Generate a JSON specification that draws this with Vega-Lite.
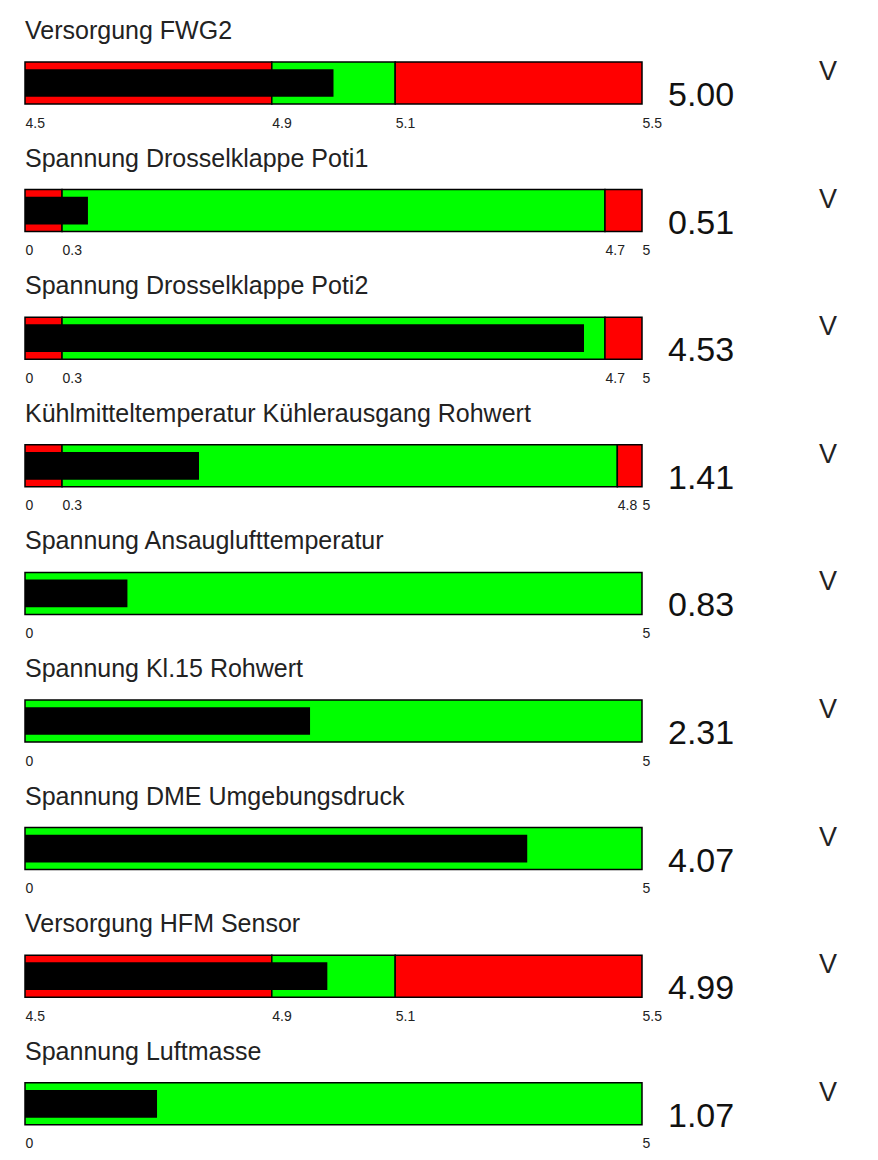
{
  "$schema": "https://vega.github.io/schema/vega-lite/v6.json",
  "padding": {"left": 24, "top": 19, "right": 5, "bottom": 5},
  "background": "#ffffff",
  "spacing": 85.6,
  "bounds": "flush",
  "config": {
    "view": {"stroke": null},
    "font": "Liberation Sans, Arial, sans-serif",
    "title": {"anchor": "start", "font": "Liberation Sans, Arial, sans-serif", "fontSize": 25, "fontWeight": "normal", "color": "#222222", "offset": 14, "frame": "group"},
    "axis": {"domain": false, "ticks": false, "tickSize": 0, "grid": false, "labelAlign": "left", "labelBaseline": "top", "labelPadding": 12, "labelFontSize": 14, "labelFont": "Liberation Sans, Arial, sans-serif", "labelColor": "#222222", "labelFlush": false, "labelOverlap": false, "labelBound": false}
  },
  "datasets": {
    "zones": [
      {"row": 1, "start": 4.5, "end": 4.9, "status": "alarm"},
      {"row": 1, "start": 4.9, "end": 5.1, "status": "ok"},
      {"row": 1, "start": 5.1, "end": 5.5, "status": "alarm"},
      {"row": 2, "start": 0, "end": 0.3, "status": "alarm"},
      {"row": 2, "start": 0.3, "end": 4.7, "status": "ok"},
      {"row": 2, "start": 4.7, "end": 5, "status": "alarm"},
      {"row": 3, "start": 0, "end": 0.3, "status": "alarm"},
      {"row": 3, "start": 0.3, "end": 4.7, "status": "ok"},
      {"row": 3, "start": 4.7, "end": 5, "status": "alarm"},
      {"row": 4, "start": 0, "end": 0.3, "status": "alarm"},
      {"row": 4, "start": 0.3, "end": 4.8, "status": "ok"},
      {"row": 4, "start": 4.8, "end": 5, "status": "alarm"},
      {"row": 5, "start": 0, "end": 5, "status": "ok"},
      {"row": 6, "start": 0, "end": 5, "status": "ok"},
      {"row": 7, "start": 0, "end": 5, "status": "ok"},
      {"row": 8, "start": 4.5, "end": 4.9, "status": "alarm"},
      {"row": 8, "start": 4.9, "end": 5.1, "status": "ok"},
      {"row": 8, "start": 5.1, "end": 5.5, "status": "alarm"},
      {"row": 9, "start": 0, "end": 5, "status": "ok"}
    ],
    "gauges": [
      {"row": 1, "name": "Versorgung FWG2", "min": 4.5, "max": 5.5, "value": 5.00, "unit": "V"},
      {"row": 2, "name": "Spannung Drosselklappe Poti1", "min": 0, "max": 5, "value": 0.51, "unit": "V"},
      {"row": 3, "name": "Spannung Drosselklappe Poti2", "min": 0, "max": 5, "value": 4.53, "unit": "V"},
      {"row": 4, "name": "Kühlmitteltemperatur Kühlerausgang Rohwert", "min": 0, "max": 5, "value": 1.41, "unit": "V"},
      {"row": 5, "name": "Spannung Ansauglufttemperatur", "min": 0, "max": 5, "value": 0.83, "unit": "V"},
      {"row": 6, "name": "Spannung Kl.15 Rohwert", "min": 0, "max": 5, "value": 2.31, "unit": "V"},
      {"row": 7, "name": "Spannung DME Umgebungsdruck", "min": 0, "max": 5, "value": 4.07, "unit": "V"},
      {"row": 8, "name": "Versorgung HFM Sensor", "min": 4.5, "max": 5.5, "value": 4.99, "unit": "V"},
      {"row": 9, "name": "Spannung Luftmasse", "min": 0, "max": 5, "value": 1.07, "unit": "V"}
    ]
  },
  "vconcat": [
    {"title": "Versorgung FWG2", "width": 617, "height": 42, "layer": [
      {"data": {"name": "zones"}, "transform": [{"filter": "datum.row == 1"}], "mark": {"type": "rect", "stroke": "#000000", "strokeWidth": 1.5},
       "encoding": {"x": {"field": "start", "type": "quantitative", "title": null, "scale": {"domain": [4.5, 5.5]}, "axis": {"values": [4.5, 4.9, 5.1, 5.5], "format": "~g"}}, "x2": {"field": "end"},
        "y": {"datum": 0, "type": "quantitative", "scale": {"domain": [0, 1]}, "axis": null}, "y2": {"datum": 1},
        "color": {"field": "status", "type": "nominal", "scale": {"domain": ["alarm", "ok"], "range": ["#ff0000", "#00ff00"]}, "legend": null}}},
      {"data": {"name": "gauges"}, "transform": [{"filter": "datum.row == 1"}], "mark": {"type": "rect", "fill": "#000000"},
       "encoding": {"x": {"field": "min", "type": "quantitative", "title": null}, "x2": {"field": "value"}, "y": {"datum": 0.17, "type": "quantitative"}, "y2": {"datum": 0.83}}},
      {"data": {"name": "gauges"}, "transform": [{"filter": "datum.row == 1"}], "mark": {"type": "text", "align": "left", "baseline": "alphabetic", "dx": 26, "dy": 2, "fontSize": 34, "color": "#111111"},
       "encoding": {"x": {"field": "max", "type": "quantitative", "title": null}, "y": {"datum": 0, "type": "quantitative"}, "text": {"field": "value", "type": "quantitative", "format": ".2f"}}},
      {"data": {"name": "gauges"}, "transform": [{"filter": "datum.row == 1"}], "mark": {"type": "text", "align": "left", "baseline": "alphabetic", "dx": 177, "dy": -3, "fontSize": 27, "color": "#222222"},
       "encoding": {"x": {"field": "max", "type": "quantitative", "title": null}, "y": {"datum": 0.5, "type": "quantitative"}, "text": {"field": "unit"}}}
    ]},
    {"title": "Spannung Drosselklappe Poti1", "width": 617, "height": 42, "layer": [
      {"data": {"name": "zones"}, "transform": [{"filter": "datum.row == 2"}], "mark": {"type": "rect", "stroke": "#000000", "strokeWidth": 1.5},
       "encoding": {"x": {"field": "start", "type": "quantitative", "title": null, "scale": {"domain": [0, 5]}, "axis": {"values": [0, 0.3, 4.7, 5], "format": "~g"}}, "x2": {"field": "end"},
        "y": {"datum": 0, "type": "quantitative", "scale": {"domain": [0, 1]}, "axis": null}, "y2": {"datum": 1},
        "color": {"field": "status", "type": "nominal", "scale": {"domain": ["alarm", "ok"], "range": ["#ff0000", "#00ff00"]}, "legend": null}}},
      {"data": {"name": "gauges"}, "transform": [{"filter": "datum.row == 2"}], "mark": {"type": "rect", "fill": "#000000"},
       "encoding": {"x": {"field": "min", "type": "quantitative", "title": null}, "x2": {"field": "value"}, "y": {"datum": 0.17, "type": "quantitative"}, "y2": {"datum": 0.83}}},
      {"data": {"name": "gauges"}, "transform": [{"filter": "datum.row == 2"}], "mark": {"type": "text", "align": "left", "baseline": "alphabetic", "dx": 26, "dy": 2, "fontSize": 34, "color": "#111111"},
       "encoding": {"x": {"field": "max", "type": "quantitative", "title": null}, "y": {"datum": 0, "type": "quantitative"}, "text": {"field": "value", "type": "quantitative", "format": ".2f"}}},
      {"data": {"name": "gauges"}, "transform": [{"filter": "datum.row == 2"}], "mark": {"type": "text", "align": "left", "baseline": "alphabetic", "dx": 177, "dy": -3, "fontSize": 27, "color": "#222222"},
       "encoding": {"x": {"field": "max", "type": "quantitative", "title": null}, "y": {"datum": 0.5, "type": "quantitative"}, "text": {"field": "unit"}}}
    ]},
    {"title": "Spannung Drosselklappe Poti2", "width": 617, "height": 42, "layer": [
      {"data": {"name": "zones"}, "transform": [{"filter": "datum.row == 3"}], "mark": {"type": "rect", "stroke": "#000000", "strokeWidth": 1.5},
       "encoding": {"x": {"field": "start", "type": "quantitative", "title": null, "scale": {"domain": [0, 5]}, "axis": {"values": [0, 0.3, 4.7, 5], "format": "~g"}}, "x2": {"field": "end"},
        "y": {"datum": 0, "type": "quantitative", "scale": {"domain": [0, 1]}, "axis": null}, "y2": {"datum": 1},
        "color": {"field": "status", "type": "nominal", "scale": {"domain": ["alarm", "ok"], "range": ["#ff0000", "#00ff00"]}, "legend": null}}},
      {"data": {"name": "gauges"}, "transform": [{"filter": "datum.row == 3"}], "mark": {"type": "rect", "fill": "#000000"},
       "encoding": {"x": {"field": "min", "type": "quantitative", "title": null}, "x2": {"field": "value"}, "y": {"datum": 0.17, "type": "quantitative"}, "y2": {"datum": 0.83}}},
      {"data": {"name": "gauges"}, "transform": [{"filter": "datum.row == 3"}], "mark": {"type": "text", "align": "left", "baseline": "alphabetic", "dx": 26, "dy": 2, "fontSize": 34, "color": "#111111"},
       "encoding": {"x": {"field": "max", "type": "quantitative", "title": null}, "y": {"datum": 0, "type": "quantitative"}, "text": {"field": "value", "type": "quantitative", "format": ".2f"}}},
      {"data": {"name": "gauges"}, "transform": [{"filter": "datum.row == 3"}], "mark": {"type": "text", "align": "left", "baseline": "alphabetic", "dx": 177, "dy": -3, "fontSize": 27, "color": "#222222"},
       "encoding": {"x": {"field": "max", "type": "quantitative", "title": null}, "y": {"datum": 0.5, "type": "quantitative"}, "text": {"field": "unit"}}}
    ]},
    {"title": "Kühlmitteltemperatur Kühlerausgang Rohwert", "width": 617, "height": 42, "layer": [
      {"data": {"name": "zones"}, "transform": [{"filter": "datum.row == 4"}], "mark": {"type": "rect", "stroke": "#000000", "strokeWidth": 1.5},
       "encoding": {"x": {"field": "start", "type": "quantitative", "title": null, "scale": {"domain": [0, 5]}, "axis": {"values": [0, 0.3, 4.8, 5], "format": "~g"}}, "x2": {"field": "end"},
        "y": {"datum": 0, "type": "quantitative", "scale": {"domain": [0, 1]}, "axis": null}, "y2": {"datum": 1},
        "color": {"field": "status", "type": "nominal", "scale": {"domain": ["alarm", "ok"], "range": ["#ff0000", "#00ff00"]}, "legend": null}}},
      {"data": {"name": "gauges"}, "transform": [{"filter": "datum.row == 4"}], "mark": {"type": "rect", "fill": "#000000"},
       "encoding": {"x": {"field": "min", "type": "quantitative", "title": null}, "x2": {"field": "value"}, "y": {"datum": 0.17, "type": "quantitative"}, "y2": {"datum": 0.83}}},
      {"data": {"name": "gauges"}, "transform": [{"filter": "datum.row == 4"}], "mark": {"type": "text", "align": "left", "baseline": "alphabetic", "dx": 26, "dy": 2, "fontSize": 34, "color": "#111111"},
       "encoding": {"x": {"field": "max", "type": "quantitative", "title": null}, "y": {"datum": 0, "type": "quantitative"}, "text": {"field": "value", "type": "quantitative", "format": ".2f"}}},
      {"data": {"name": "gauges"}, "transform": [{"filter": "datum.row == 4"}], "mark": {"type": "text", "align": "left", "baseline": "alphabetic", "dx": 177, "dy": -3, "fontSize": 27, "color": "#222222"},
       "encoding": {"x": {"field": "max", "type": "quantitative", "title": null}, "y": {"datum": 0.5, "type": "quantitative"}, "text": {"field": "unit"}}}
    ]},
    {"title": "Spannung Ansauglufttemperatur", "width": 617, "height": 42, "layer": [
      {"data": {"name": "zones"}, "transform": [{"filter": "datum.row == 5"}], "mark": {"type": "rect", "stroke": "#000000", "strokeWidth": 1.5},
       "encoding": {"x": {"field": "start", "type": "quantitative", "title": null, "scale": {"domain": [0, 5]}, "axis": {"values": [0, 5], "format": "~g"}}, "x2": {"field": "end"},
        "y": {"datum": 0, "type": "quantitative", "scale": {"domain": [0, 1]}, "axis": null}, "y2": {"datum": 1},
        "color": {"field": "status", "type": "nominal", "scale": {"domain": ["alarm", "ok"], "range": ["#ff0000", "#00ff00"]}, "legend": null}}},
      {"data": {"name": "gauges"}, "transform": [{"filter": "datum.row == 5"}], "mark": {"type": "rect", "fill": "#000000"},
       "encoding": {"x": {"field": "min", "type": "quantitative", "title": null}, "x2": {"field": "value"}, "y": {"datum": 0.17, "type": "quantitative"}, "y2": {"datum": 0.83}}},
      {"data": {"name": "gauges"}, "transform": [{"filter": "datum.row == 5"}], "mark": {"type": "text", "align": "left", "baseline": "alphabetic", "dx": 26, "dy": 2, "fontSize": 34, "color": "#111111"},
       "encoding": {"x": {"field": "max", "type": "quantitative", "title": null}, "y": {"datum": 0, "type": "quantitative"}, "text": {"field": "value", "type": "quantitative", "format": ".2f"}}},
      {"data": {"name": "gauges"}, "transform": [{"filter": "datum.row == 5"}], "mark": {"type": "text", "align": "left", "baseline": "alphabetic", "dx": 177, "dy": -3, "fontSize": 27, "color": "#222222"},
       "encoding": {"x": {"field": "max", "type": "quantitative", "title": null}, "y": {"datum": 0.5, "type": "quantitative"}, "text": {"field": "unit"}}}
    ]},
    {"title": "Spannung Kl.15 Rohwert", "width": 617, "height": 42, "layer": [
      {"data": {"name": "zones"}, "transform": [{"filter": "datum.row == 6"}], "mark": {"type": "rect", "stroke": "#000000", "strokeWidth": 1.5},
       "encoding": {"x": {"field": "start", "type": "quantitative", "title": null, "scale": {"domain": [0, 5]}, "axis": {"values": [0, 5], "format": "~g"}}, "x2": {"field": "end"},
        "y": {"datum": 0, "type": "quantitative", "scale": {"domain": [0, 1]}, "axis": null}, "y2": {"datum": 1},
        "color": {"field": "status", "type": "nominal", "scale": {"domain": ["alarm", "ok"], "range": ["#ff0000", "#00ff00"]}, "legend": null}}},
      {"data": {"name": "gauges"}, "transform": [{"filter": "datum.row == 6"}], "mark": {"type": "rect", "fill": "#000000"},
       "encoding": {"x": {"field": "min", "type": "quantitative", "title": null}, "x2": {"field": "value"}, "y": {"datum": 0.17, "type": "quantitative"}, "y2": {"datum": 0.83}}},
      {"data": {"name": "gauges"}, "transform": [{"filter": "datum.row == 6"}], "mark": {"type": "text", "align": "left", "baseline": "alphabetic", "dx": 26, "dy": 2, "fontSize": 34, "color": "#111111"},
       "encoding": {"x": {"field": "max", "type": "quantitative", "title": null}, "y": {"datum": 0, "type": "quantitative"}, "text": {"field": "value", "type": "quantitative", "format": ".2f"}}},
      {"data": {"name": "gauges"}, "transform": [{"filter": "datum.row == 6"}], "mark": {"type": "text", "align": "left", "baseline": "alphabetic", "dx": 177, "dy": -3, "fontSize": 27, "color": "#222222"},
       "encoding": {"x": {"field": "max", "type": "quantitative", "title": null}, "y": {"datum": 0.5, "type": "quantitative"}, "text": {"field": "unit"}}}
    ]},
    {"title": "Spannung DME Umgebungsdruck", "width": 617, "height": 42, "layer": [
      {"data": {"name": "zones"}, "transform": [{"filter": "datum.row == 7"}], "mark": {"type": "rect", "stroke": "#000000", "strokeWidth": 1.5},
       "encoding": {"x": {"field": "start", "type": "quantitative", "title": null, "scale": {"domain": [0, 5]}, "axis": {"values": [0, 5], "format": "~g"}}, "x2": {"field": "end"},
        "y": {"datum": 0, "type": "quantitative", "scale": {"domain": [0, 1]}, "axis": null}, "y2": {"datum": 1},
        "color": {"field": "status", "type": "nominal", "scale": {"domain": ["alarm", "ok"], "range": ["#ff0000", "#00ff00"]}, "legend": null}}},
      {"data": {"name": "gauges"}, "transform": [{"filter": "datum.row == 7"}], "mark": {"type": "rect", "fill": "#000000"},
       "encoding": {"x": {"field": "min", "type": "quantitative", "title": null}, "x2": {"field": "value"}, "y": {"datum": 0.17, "type": "quantitative"}, "y2": {"datum": 0.83}}},
      {"data": {"name": "gauges"}, "transform": [{"filter": "datum.row == 7"}], "mark": {"type": "text", "align": "left", "baseline": "alphabetic", "dx": 26, "dy": 2, "fontSize": 34, "color": "#111111"},
       "encoding": {"x": {"field": "max", "type": "quantitative", "title": null}, "y": {"datum": 0, "type": "quantitative"}, "text": {"field": "value", "type": "quantitative", "format": ".2f"}}},
      {"data": {"name": "gauges"}, "transform": [{"filter": "datum.row == 7"}], "mark": {"type": "text", "align": "left", "baseline": "alphabetic", "dx": 177, "dy": -3, "fontSize": 27, "color": "#222222"},
       "encoding": {"x": {"field": "max", "type": "quantitative", "title": null}, "y": {"datum": 0.5, "type": "quantitative"}, "text": {"field": "unit"}}}
    ]},
    {"title": "Versorgung HFM Sensor", "width": 617, "height": 42, "layer": [
      {"data": {"name": "zones"}, "transform": [{"filter": "datum.row == 8"}], "mark": {"type": "rect", "stroke": "#000000", "strokeWidth": 1.5},
       "encoding": {"x": {"field": "start", "type": "quantitative", "title": null, "scale": {"domain": [4.5, 5.5]}, "axis": {"values": [4.5, 4.9, 5.1, 5.5], "format": "~g"}}, "x2": {"field": "end"},
        "y": {"datum": 0, "type": "quantitative", "scale": {"domain": [0, 1]}, "axis": null}, "y2": {"datum": 1},
        "color": {"field": "status", "type": "nominal", "scale": {"domain": ["alarm", "ok"], "range": ["#ff0000", "#00ff00"]}, "legend": null}}},
      {"data": {"name": "gauges"}, "transform": [{"filter": "datum.row == 8"}], "mark": {"type": "rect", "fill": "#000000"},
       "encoding": {"x": {"field": "min", "type": "quantitative", "title": null}, "x2": {"field": "value"}, "y": {"datum": 0.17, "type": "quantitative"}, "y2": {"datum": 0.83}}},
      {"data": {"name": "gauges"}, "transform": [{"filter": "datum.row == 8"}], "mark": {"type": "text", "align": "left", "baseline": "alphabetic", "dx": 26, "dy": 2, "fontSize": 34, "color": "#111111"},
       "encoding": {"x": {"field": "max", "type": "quantitative", "title": null}, "y": {"datum": 0, "type": "quantitative"}, "text": {"field": "value", "type": "quantitative", "format": ".2f"}}},
      {"data": {"name": "gauges"}, "transform": [{"filter": "datum.row == 8"}], "mark": {"type": "text", "align": "left", "baseline": "alphabetic", "dx": 177, "dy": -3, "fontSize": 27, "color": "#222222"},
       "encoding": {"x": {"field": "max", "type": "quantitative", "title": null}, "y": {"datum": 0.5, "type": "quantitative"}, "text": {"field": "unit"}}}
    ]},
    {"title": "Spannung Luftmasse", "width": 617, "height": 42, "layer": [
      {"data": {"name": "zones"}, "transform": [{"filter": "datum.row == 9"}], "mark": {"type": "rect", "stroke": "#000000", "strokeWidth": 1.5},
       "encoding": {"x": {"field": "start", "type": "quantitative", "title": null, "scale": {"domain": [0, 5]}, "axis": {"values": [0, 5], "format": "~g"}}, "x2": {"field": "end"},
        "y": {"datum": 0, "type": "quantitative", "scale": {"domain": [0, 1]}, "axis": null}, "y2": {"datum": 1},
        "color": {"field": "status", "type": "nominal", "scale": {"domain": ["alarm", "ok"], "range": ["#ff0000", "#00ff00"]}, "legend": null}}},
      {"data": {"name": "gauges"}, "transform": [{"filter": "datum.row == 9"}], "mark": {"type": "rect", "fill": "#000000"},
       "encoding": {"x": {"field": "min", "type": "quantitative", "title": null}, "x2": {"field": "value"}, "y": {"datum": 0.17, "type": "quantitative"}, "y2": {"datum": 0.83}}},
      {"data": {"name": "gauges"}, "transform": [{"filter": "datum.row == 9"}], "mark": {"type": "text", "align": "left", "baseline": "alphabetic", "dx": 26, "dy": 2, "fontSize": 34, "color": "#111111"},
       "encoding": {"x": {"field": "max", "type": "quantitative", "title": null}, "y": {"datum": 0, "type": "quantitative"}, "text": {"field": "value", "type": "quantitative", "format": ".2f"}}},
      {"data": {"name": "gauges"}, "transform": [{"filter": "datum.row == 9"}], "mark": {"type": "text", "align": "left", "baseline": "alphabetic", "dx": 177, "dy": -3, "fontSize": 27, "color": "#222222"},
       "encoding": {"x": {"field": "max", "type": "quantitative", "title": null}, "y": {"datum": 0.5, "type": "quantitative"}, "text": {"field": "unit"}}}
    ]}
  ]
}
